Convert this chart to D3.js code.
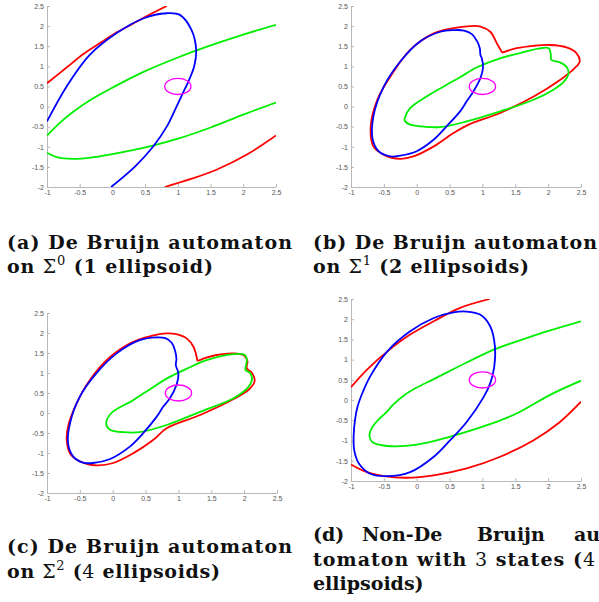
<!DOCTYPE html>
<html>
<head>
<meta charset="utf-8">
<script src="https://cdn.jsdelivr.net/npm/d3@7"></script>
<style>
  body { margin: 0; background: #fff; }
  .tick text { font-family: "Liberation Sans", Arial, sans-serif; font-size: 7px; fill: #555; }
  .domain, .tick line { stroke: #b8b8b8; }
  .cap { font-family: "DejaVu Serif", serif; font-weight: bold; font-size: 19px; fill: #111; }
</style>
</head>
<body>
<svg id="fig" width="599" height="602"></svg>
<script>
// axis ticks (same for all four panels)
const xTicks = [-1, -0.5, 0, 0.5, 1, 1.5, 2, 2.5];
const yTicks = [-2, -1.5, -1, -0.5, 0, 0.5, 1, 1.5, 2, 2.5];

// target set: circle at (1, 0.5) of radius 0.2
const target = { cx: 1.0, cy: 0.5, r: 0.2 };

// (a) De Bruijn on Sigma^0
const aRedTop = [[-1,0.58],[-0.70,0.97],[-0.45,1.30],[-0.19,1.58],[0.06,1.84],[0.3,2.05],[0.55,2.27],[0.83,2.5]];
const aRedBottom = [[0.80,-2],[1.2,-1.8],[1.59,-1.57],[2.05,-1.20],[2.5,-0.72]];
const aBlue = [[-1,-0.37],[-0.70,0.5],[-0.35,1.28],[0.06,1.82],[0.47,2.19],[0.83,2.32],[1.03,2.28],[1.21,1.90],[1.28,1.41],[1.25,1.0],[1.16,0.62],[1.07,0.31],[0.98,0.0],[0.83,-0.5],[0.62,-1.0],[0.34,-1.5],[-0.02,-2]];
const aGreenTop = [[-1,-0.72],[-0.8,-0.40],[-0.6,-0.13],[-0.3,0.2],[0,0.47],[0.5,0.88],[1.0,1.22],[1.5,1.52],[2.0,1.79],[2.5,2.03]];
const aGreenBottom = [[-1,-1.15],[-0.85,-1.26],[-0.6,-1.30],[-0.3,-1.26],[0,-1.18],[0.62,-0.97],[1.0,-0.80],[1.5,-0.52],[2.0,-0.20],[2.5,0.10]];

// (b) De Bruijn on Sigma^1
const bRed = [[1.30,1.34],[1.52,1.45],[1.78,1.51],[2.03,1.53],[2.28,1.47],[2.43,1.33],[2.48,1.12],[2.40,0.95],[2.18,0.66],[1.78,0.25],[1.27,-0.16],[0.79,-0.45],[0.56,-0.66],[0.26,-0.99],[-0.05,-1.24],[-0.25,-1.30],[-0.50,-1.20],[-0.66,-0.99],[-0.70,-0.49],[-0.60,0.17],[-0.40,0.75],[-0.10,1.41],[0.26,1.82],[0.56,1.95],[0.81,2.0],[0.97,1.99],[1.12,1.86],[1.22,1.57],[1.30,1.34]];
const bGreen = [[-0.18,-0.28],[-0.10,-0.04],[0.15,0.25],[0.41,0.50],[0.66,0.73],[0.91,0.97],[1.27,1.20],[1.67,1.37],[1.85,1.44],[2.01,1.45],[2.04,1.30],[2.05,1.16],[2.18,1.10],[2.28,0.99],[2.31,0.82],[2.24,0.62],[2.08,0.42],[1.78,0.17],[1.27,-0.12],[0.76,-0.37],[0.36,-0.51],[0.05,-0.49],[-0.10,-0.45],[-0.18,-0.36]];
const bBlue = [[0.97,1.28],[0.96,1.45],[0.92,1.62],[0.84,1.80],[0.72,1.89],[0.56,1.90],[0.36,1.86],[0.05,1.62],[-0.25,1.12],[-0.50,0.50],[-0.66,-0.25],[-0.67,-0.82],[-0.58,-1.11],[-0.40,-1.24],[-0.25,-1.22],[0.00,-1.11],[0.26,-0.82],[0.46,-0.48],[0.66,-0.12],[0.76,0.13],[0.86,0.37],[0.97,0.71],[1.01,0.99],[0.99,1.20]];

// (c) De Bruijn on Sigma^2
const cRed = [[1.29,1.30],[1.40,1.37],[1.58,1.45],[1.84,1.49],[2.00,1.44],[2.05,1.30],[2.04,1.12],[2.12,1.0],[2.16,0.80],[2.08,0.60],[1.84,0.35],[1.33,-0.05],[0.82,-0.38],[0.62,-0.67],[0.31,-1.01],[0.01,-1.25],[-0.25,-1.31],[-0.50,-1.21],[-0.65,-1.01],[-0.70,-0.67],[-0.68,-0.34],[-0.55,0.24],[-0.35,0.82],[-0.04,1.40],[0.31,1.78],[0.57,1.92],[0.82,1.99],[0.97,1.97],[1.13,1.86],[1.23,1.65],[1.29,1.30]];
const cGreen = [[-0.10,-0.26],[-0.02,0.0],[0.31,0.32],[0.59,0.62],[0.82,0.86],[1.13,1.11],[1.43,1.32],[1.84,1.47],[2.0,1.46],[2.04,1.36],[2.03,1.20],[2.02,1.08],[2.09,1.0],[2.12,0.85],[2.06,0.64],[1.84,0.37],[1.33,0.03],[0.82,-0.30],[0.41,-0.48],[0.16,-0.48],[-0.04,-0.42]];
const cBlue = [[0.96,1.20],[0.97,1.35],[0.95,1.55],[0.90,1.75],[0.80,1.87],[0.67,1.89],[0.41,1.82],[0.06,1.49],[-0.25,0.99],[-0.50,0.41],[-0.65,-0.26],[-0.68,-0.76],[-0.60,-1.09],[-0.45,-1.24],[-0.30,-1.25],[-0.04,-1.15],[0.26,-0.84],[0.46,-0.51],[0.67,-0.09],[0.77,0.16],[0.87,0.37],[0.97,0.70],[1.00,0.99]];

// (d) Non-De Bruijn, 3 states
const dRedTop = [[-1,0.32],[-0.76,0.75],[-0.45,1.20],[-0.10,1.62],[0.26,1.95],[0.66,2.28],[1.11,2.5]];
const dRedBottom = [[-1,-1.59],[-0.76,-1.78],[-0.50,-1.88],[-0.15,-1.92],[0.26,-1.86],[0.76,-1.69],[1.27,-1.40],[1.78,-0.99],[2.18,-0.54],[2.5,-0.04]];
const dBlue = [[-0.96,-0.9],[-0.94,-0.5],[-0.90,-0.16],[-0.82,0.2],[-0.71,0.58],[-0.45,1.20],[-0.10,1.70],[0.26,2.03],[0.56,2.17],[0.76,2.19],[0.97,2.11],[1.12,1.82],[1.19,1.33],[1.18,0.83],[1.12,0.42],[1.02,0.08],[0.76,-0.54],[0.51,-0.99],[0.26,-1.40],[-0.10,-1.78],[-0.45,-1.88],[-0.71,-1.82],[-0.88,-1.57],[-0.95,-1.25]];
const dGreen = [[2.5,1.95],[1.98,1.70],[1.52,1.45],[1.19,1.26],[0.76,0.93],[0.26,0.52],[0.0,0.31],[-0.20,0.11],[-0.35,-0.10],[-0.48,-0.33],[-0.58,-0.48],[-0.68,-0.68],[-0.72,-0.87],[-0.68,-1.03],[-0.55,-1.11],[-0.25,-1.14],[0.10,-1.07],[0.56,-0.88],[1.07,-0.62],[1.52,-0.33],[2.03,0.13],[2.5,0.48]];

const panels = [
  { id: 'a', x0: 47, x1: 276, y0: 187, y1: 6,
    curves: [[aRedTop,'#ff0000',false],[aRedBottom,'#ff0000',false],[aGreenTop,'#00ee00',false],[aGreenBottom,'#00ee00',false],[aBlue,'#0000ff',false]] },
  { id: 'b', x0: 351, x1: 581, y0: 187, y1: 6,
    curves: [[bRed,'#ff0000',false],[bGreen,'#00ee00',true],[bBlue,'#0000ff',true]] },
  { id: 'c', x0: 47, x1: 277, y0: 493, y1: 313,
    curves: [[cRed,'#ff0000',false],[cGreen,'#00ee00',true],[cBlue,'#0000ff',true]] },
  { id: 'd', x0: 351, x1: 581, y0: 481, y1: 299,
    curves: [[dRedTop,'#ff0000',false],[dRedBottom,'#ff0000',false],[dGreen,'#00ee00',false],[dBlue,'#0000ff',true]] }
];

const svg = d3.select('#fig');
const fmt = d => String(d);

panels.forEach(p => {
  const x = d3.scaleLinear().domain([-1, 2.5]).range([p.x0, p.x1]);
  const y = d3.scaleLinear().domain([-2, 2.5]).range([p.y0, p.y1]);
  const g = svg.append('g');

  g.append('clipPath').attr('id', 'clip-' + p.id)
    .append('rect')
    .attr('x', p.x0).attr('y', p.y1)
    .attr('width', p.x1 - p.x0).attr('height', p.y0 - p.y1);

  g.append('g')
    .attr('transform', `translate(0,${p.y0})`)
    .call(d3.axisBottom(x).tickValues(xTicks).tickFormat(fmt).tickSizeInner(-3).tickSizeOuter(0).tickPadding(3));
  g.append('g')
    .attr('transform', `translate(${p.x0},0)`)
    .call(d3.axisLeft(y).tickValues(yTicks).tickFormat(fmt).tickSizeInner(-3).tickSizeOuter(0).tickPadding(3));

  const plot = g.append('g').attr('clip-path', `url(#clip-${p.id})`);

  p.curves.forEach(([pts, color, closed]) => {
    const line = d3.line()
      .x(d => x(d[0]))
      .y(d => y(d[1]))
      .curve(closed ? d3.curveCatmullRomClosed.alpha(0.5) : d3.curveCatmullRom.alpha(0.5));
    plot.append('path')
      .attr('d', line(pts))
      .attr('fill', 'none')
      .attr('stroke', color)
      .attr('stroke-width', 1.8)
      .attr('stroke-linejoin', 'round');
  });

  plot.append('ellipse')
    .attr('cx', x(target.cx)).attr('cy', y(target.cy))
    .attr('rx', x(target.cx + target.r) - x(target.cx))
    .attr('ry', y(target.cy) - y(target.cy + target.r))
    .attr('fill', 'none')
    .attr('stroke', '#ff00ff')
    .attr('stroke-width', 1.3);
});

// captions
function caption(x, yb, parts, width) {
  const t = svg.append('text').attr('class', 'cap').attr('x', x).attr('y', yb);
  parts.forEach(pt => {
    const s = t.append('tspan').text(pt.t);
    if (pt.math) s.attr('font-weight', 'normal');
    if (pt.sup) s.attr('font-size', 13).attr('dy', -8);
    if (pt.down) s.attr('dy', 8);
  });
  if (width) t.attr('textLength', width).attr('lengthAdjust', 'spacing');
  return t;
}

caption(7, 249, [{ t: '(a) De Bruijn automaton' }], 285);
caption(7, 273, [{ t: 'on ' }, { t: 'Σ', math: true }, { t: '0', math: true, sup: true }, { t: ' (1 ellipsoid)', down: true }], 206);
caption(313, 249, [{ t: '(b) De Bruijn automaton' }], 284);
caption(313, 273, [{ t: 'on ' }, { t: 'Σ', math: true }, { t: '1', math: true, sup: true }, { t: ' (2 ellipsoids)', down: true }], 216);

caption(7, 553, [{ t: '(c) De Bruijn automaton' }], 285);
caption(7, 578, [{ t: 'on ' }, { t: 'Σ', math: true }, { t: '2', math: true, sup: true }, { t: ' (' , down: true }, { t: '4', math: true }, { t: ' ellipsoids)' }], 213);

// (d) justified first line
const dWords = ['(d)', 'Non-De', 'Bruijn', 'au'];
const dWordX = [313, 362, 477, 574];
dWords.forEach((w, i) => caption(dWordX[i], 541, [{ t: w }]));
caption(313, 566, [{ t: 'tomaton with ' }, { t: '3', math: true }, { t: ' states (' }, { t: '4', math: true }], 282);
caption(313, 590, [{ t: 'ellipsoids)' }]);
</script>
</body>
</html>
